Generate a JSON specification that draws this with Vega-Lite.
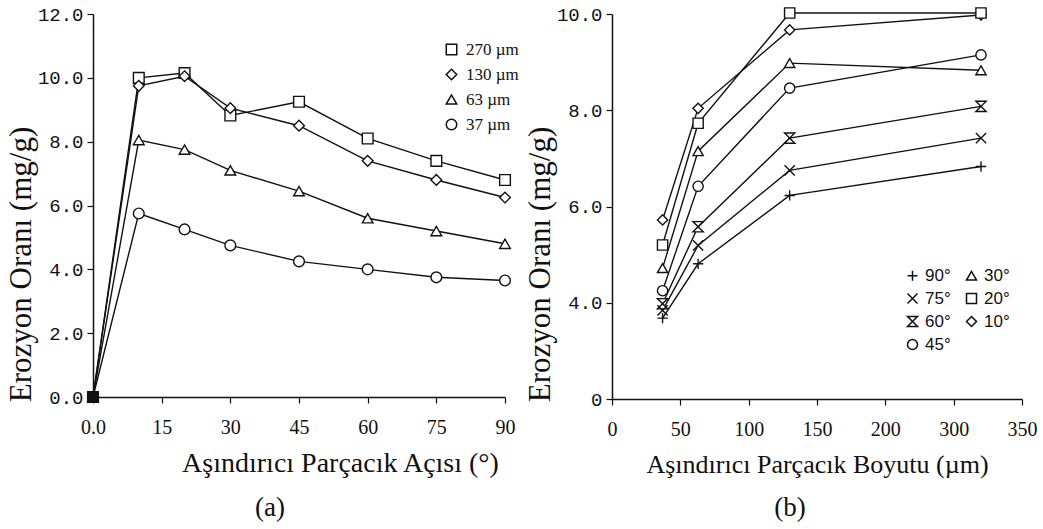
{
  "$schema": "https://vega.github.io/schema/vega-lite/v6.json",
  "background": "white",
  "padding": 5,
  "resolve": {"scale": {"shape": "independent", "x": "independent", "y": "independent"}, "legend": {"shape": "independent"}},
  "config": {
    "view": {"stroke": null},
    "concat": {"spacing": 5},
    "axis": {"grid": false, "domainColor": "#111", "tickColor": "#111", "labelColor": "#111", "titleColor": "#111", "domainWidth": 1.5, "tickWidth": 1.2, "titleFontWeight": "normal"},
    "title": {"font": "Liberation Serif", "fontSize": 27, "fontWeight": "normal", "color": "#111"}
  },
  "datasets": {
    "a": [
      {"angle": 0, "rate": 0, "size": "270 µm"}, {"angle": 10, "rate": 10.0, "size": "270 µm"}, {"angle": 20, "rate": 10.15, "size": "270 µm"}, {"angle": 30, "rate": 8.82, "size": "270 µm"}, {"angle": 45, "rate": 9.25, "size": "270 µm"}, {"angle": 60, "rate": 8.1, "size": "270 µm"}, {"angle": 75, "rate": 7.4, "size": "270 µm"}, {"angle": 90, "rate": 6.8, "size": "270 µm"},
      {"angle": 0, "rate": 0, "size": "130 µm"}, {"angle": 10, "rate": 9.75, "size": "130 µm"}, {"angle": 20, "rate": 10.05, "size": "130 µm"}, {"angle": 30, "rate": 9.05, "size": "130 µm"}, {"angle": 45, "rate": 8.5, "size": "130 µm"}, {"angle": 60, "rate": 7.4, "size": "130 µm"}, {"angle": 75, "rate": 6.8, "size": "130 µm"}, {"angle": 90, "rate": 6.25, "size": "130 µm"},
      {"angle": 0, "rate": 0, "size": "63 µm"}, {"angle": 10, "rate": 8.05, "size": "63 µm"}, {"angle": 20, "rate": 7.75, "size": "63 µm"}, {"angle": 30, "rate": 7.1, "size": "63 µm"}, {"angle": 45, "rate": 6.45, "size": "63 µm"}, {"angle": 60, "rate": 5.6, "size": "63 µm"}, {"angle": 75, "rate": 5.2, "size": "63 µm"}, {"angle": 90, "rate": 4.8, "size": "63 µm"},
      {"angle": 0, "rate": 0, "size": "37 µm"}, {"angle": 10, "rate": 5.75, "size": "37 µm"}, {"angle": 20, "rate": 5.25, "size": "37 µm"}, {"angle": 30, "rate": 4.75, "size": "37 µm"}, {"angle": 45, "rate": 4.25, "size": "37 µm"}, {"angle": 60, "rate": 4.0, "size": "37 µm"}, {"angle": 75, "rate": 3.75, "size": "37 µm"}, {"angle": 90, "rate": 3.65, "size": "37 µm"}
    ],
    "b": [
      {"size": 37, "rate": 5.72, "ang": "10°"}, {"size": 63, "rate": 8.04, "ang": "10°"}, {"size": 130, "rate": 9.67, "ang": "10°"}, {"size": 270, "rate": 9.98, "ang": "10°"},
      {"size": 37, "rate": 5.2, "ang": "20°"}, {"size": 63, "rate": 7.73, "ang": "20°"}, {"size": 130, "rate": 10.02, "ang": "20°"}, {"size": 270, "rate": 10.02, "ang": "20°"},
      {"size": 37, "rate": 4.72, "ang": "30°"}, {"size": 63, "rate": 7.15, "ang": "30°"}, {"size": 130, "rate": 8.98, "ang": "30°"}, {"size": 270, "rate": 8.83, "ang": "30°"},
      {"size": 37, "rate": 4.25, "ang": "45°"}, {"size": 63, "rate": 6.42, "ang": "45°"}, {"size": 130, "rate": 8.46, "ang": "45°"}, {"size": 270, "rate": 9.15, "ang": "45°"},
      {"size": 37, "rate": 3.98, "ang": "60°"}, {"size": 63, "rate": 5.58, "ang": "60°"}, {"size": 130, "rate": 7.42, "ang": "60°"}, {"size": 270, "rate": 8.08, "ang": "60°"},
      {"size": 37, "rate": 3.84, "ang": "75°"}, {"size": 63, "rate": 5.19, "ang": "75°"}, {"size": 130, "rate": 6.75, "ang": "75°"}, {"size": 270, "rate": 7.42, "ang": "75°"},
      {"size": 37, "rate": 3.68, "ang": "90°"}, {"size": 63, "rate": 4.81, "ang": "90°"}, {"size": 130, "rate": 6.23, "ang": "90°"}, {"size": 270, "rate": 6.83, "ang": "90°"}
    ]
  },
  "hconcat": [
    {
      "width": 412,
      "height": 383,
      "data": {"name": "a"},
      "title": {"text": "(a)", "orient": "bottom", "anchor": "middle", "dx": -29, "offset": 18},
      "encoding": {
        "x": {"field": "angle", "type": "quantitative", "scale": {"domain": [0, 90], "nice": false},
          "axis": {"values": [0, 15, 30, 45, 60, 75, 90], "labelExpr": "datum.value == 0 ? '0.0' : datum.label", "labelFont": "Liberation Serif", "labelFontSize": 20, "tickSize": 6, "labelPadding": 14, "labelFlush": false,
            "title": "Aşındırıcı Parçacık Açısı (°)", "titleFont": "Liberation Serif", "titleFontSize": 28, "titlePadding": 12, "titleX": 247}},
        "y": {"field": "rate", "type": "quantitative", "scale": {"domain": [0, 12], "nice": false},
          "axis": {"values": [0, 2, 4, 6, 8, 10, 12], "format": ".1f", "labelFont": "Liberation Mono", "labelFontSize": 19, "tickSize": 6, "labelPadding": 4,
            "title": "Erozyon Oranı (mg/g)", "titleFont": "Liberation Serif", "titleFontSize": 31, "titlePadding": 0, "titleY": 250}}
      },
      "layer": [
        {"mark": {"type": "line", "color": "#111", "strokeWidth": 1.4}, "encoding": {"detail": {"field": "size"}}},
        {"mark": {"type": "point", "filled": true, "stroke": "#111", "strokeWidth": 1.4, "size": 115, "opacity": 1},
          "encoding": {
            "fill": {"condition": {"test": "datum.angle == 0", "value": "#111"}, "value": "white"},
            "shape": {"field": "size", "type": "nominal",
            "scale": {"domain": ["270 µm", "130 µm", "63 µm", "37 µm"], "range": ["square", "diamond", "triangle-up", "circle"]},
            "legend": {"orient": "none", "legendX": 350, "legendY": 27, "title": null, "symbolSize": 110, "labelFont": "Liberation Serif", "labelFontSize": 17, "labelColor": "#111", "rowPadding": 7, "labelOffset": 6,
              "encode": {"symbols": {"update": {"stroke": {"value": "#111"}, "fill": {"value": "white"}, "strokeWidth": {"value": 1.3}, "opacity": {"value": 1}}}}}}}}
      ]
    },
    {
      "width": 410,
      "height": 385,
      "data": {"name": "b"},
      "title": {"text": "(b)", "orient": "bottom", "anchor": "middle", "dx": -27, "offset": 18},
      "encoding": {
        "x": {"field": "size", "type": "quantitative", "scale": {"domain": [0, 300], "nice": false},
          "axis": {"values": [0, 50, 100, 150, 200, 250, 300], "labelExpr": "datum.value == 250 ? '300' : datum.value == 300 ? '350' : datum.label", "labelFont": "Liberation Serif", "labelFontSize": 20, "tickSize": 6, "labelPadding": 14, "labelFlush": false,
            "title": "Aşındırıcı Parçacık Boyutu (µm)", "titleFont": "Liberation Serif", "titleFontSize": 26, "titlePadding": 12}},
        "y": {"field": "rate", "type": "quantitative", "scale": {"domain": [2, 10], "nice": false, "zero": false},
          "axis": {"values": [2, 4, 6, 8, 10], "labelExpr": "datum.value == 2 ? '0' : format(datum.value, '.1f')", "labelFont": "Liberation Mono", "labelFontSize": 19, "tickSize": 6, "labelPadding": 4,
            "title": "Erozyon Oranı (mg/g)", "titleFont": "Liberation Serif", "titleFontSize": 31, "titlePadding": 0, "titleY": 250}}
      },
      "layer": [
        {"mark": {"type": "line", "color": "#111", "strokeWidth": 1.4}, "encoding": {"detail": {"field": "ang"}}},
        {"mark": {"type": "point", "filled": true, "fill": "white", "stroke": "#111", "strokeWidth": 1.4, "size": 105, "opacity": 1},
          "encoding": {"shape": {"field": "ang", "type": "nominal",
            "scale": {"domain": ["90°", "75°", "60°", "45°", "30°", "20°", "10°"], "range": ["M-1,0L1,0M0,-1L0,1", "M-1,-1L1,1M-1,1L1,-1", "M-1,-1L1,-1L-1,1L1,1Z", "circle", "triangle-up", "square", "diamond"]},
            "legend": {"orient": "none", "legendX": 292, "legendY": 253, "title": null, "columns": 2, "columnPadding": 12, "rowPadding": 5, "symbolSize": 100, "labelFont": "Liberation Sans", "labelFontSize": 17, "labelColor": "#111", "labelOffset": 4,
              "encode": {"symbols": {"update": {"stroke": {"value": "#111"}, "fill": {"value": "white"}, "strokeWidth": {"value": 1.3}, "opacity": {"value": 1}}}}}}}}
      ]
    }
  ]
}
